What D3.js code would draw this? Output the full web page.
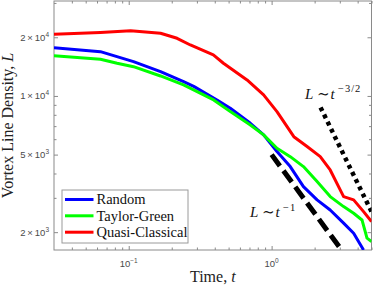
<!DOCTYPE html>
<html>
<head>
<script src="https://d3js.org/d3.v7.min.js"></script>
<style>
  body { margin: 0; background: #fff; }
  svg { display: block; }
</style>
</head>
<body>
<div id="chart"></div>
<script>
// series: time t and line density L
var tRandom = [0.03, 0.0634, 0.108, 0.167, 0.242, 0.285, 0.415, 0.514, 0.71, 0.879, 1.09, 1.35, 1.67, 2.08, 2.57, 3.19, 3.75, 4.4];
var lRandom = [17690, 16870, 14990, 13330, 11840, 11190, 9540, 8650, 7240, 6310, 5180, 4340, 3425, 2930, 2600, 2225, 1976, 1620];

var tTaylor = [0.03, 0.0634, 0.0829, 0.108, 0.167, 0.242, 0.393, 0.514, 0.71, 0.879, 1.09, 1.35, 1.67, 2.08, 2.57, 3.19, 3.75, 4.29, 4.65, 5.0];
var lTaylor = [16090, 15430, 14720, 14130, 12660, 11390, 9540, 8310, 7100, 6310, 5390, 4880, 4340, 3635, 3045, 2705, 2500, 2310, 1863, 1790];

var tQuasi = [0.03, 0.0634, 0.103, 0.167, 0.218, 0.27, 0.391, 0.46, 0.673, 0.879, 1.09, 1.43, 1.77, 2.19, 2.57, 3.19, 3.75, 4.4, 5.0];
var lQuasi = [20720, 21170, 21620, 20970, 19760, 18260, 16230, 14720, 12080, 10120, 8310, 6180, 5500, 4880, 4170, 3045, 2930, 2550, 2265];

var seriesNames = ["Random", "Taylor-Green", "Quasi-Classical"];
var seriesColors = ["#0000ff", "#00ff00", "#ff0000"];

// power-law guides: L = c * t^p over [t0, t1]
var guideDash = {c: 5000, p: -1, t: [1, 3.2]};
var guideDot = {c: 28500, p: -1.5, t: [2.2, 5]};

var xMajor = [0.1, 1];
var xMinor = [0.04, 0.05, 0.06, 0.07, 0.08, 0.09, 0.2, 0.3, 0.4, 0.5, 0.6, 0.7, 0.8, 0.9, 2, 3, 4, 5];
var yMajor = [2000, 5000, 10000, 20000];
var yMinor = [3000, 4000, 6000, 7000, 8000, 9000, 30000];

var width = 374, height = 286;
var pLeft = 54, pRight = 371.5, pTop = 1, pBottom = 250;
var axisColor = "#8a8a8a", labelColor = "#4a4a4a";
var serif = "'Liberation Serif', 'DejaVu Serif', serif";
var sans = "'Liberation Sans', Arial, sans-serif";

var x = d3.scaleLog().domain([0.03, 5]).range([pLeft, pRight]);
var y = d3.scaleLog().domain([1620, 30700]).range([pBottom, pTop]);

var svg = d3.select("#chart").append("svg")
    .attr("width", width)
    .attr("height", height);

svg.append("defs").append("clipPath").attr("id", "plotclip")
  .append("rect")
    .attr("x", pLeft).attr("y", pTop)
    .attr("width", pRight - pLeft).attr("height", pBottom - pTop);

// tick marks on all four sides, pointing inward
function ticks(axisFn, values, size, transform) {
  var g = svg.append("g").attr("transform", transform)
      .call(axisFn.tickValues(values).tickSize(size).tickFormat(""));
  g.select(".domain").remove();
  g.selectAll("line").attr("stroke", axisColor);
}
ticks(d3.axisBottom(x), xMajor, -4, "translate(0," + pBottom + ")");
ticks(d3.axisBottom(x), xMinor, -2.5, "translate(0," + pBottom + ")");
ticks(d3.axisTop(x), xMajor, -4, "translate(0," + pTop + ")");
ticks(d3.axisTop(x), xMinor, -2.5, "translate(0," + pTop + ")");
ticks(d3.axisLeft(y), yMajor, -4, "translate(" + pLeft + ",0)");
ticks(d3.axisLeft(y), yMinor, -2.5, "translate(" + pLeft + ",0)");
ticks(d3.axisRight(y), yMajor, -4, "translate(" + pRight + ",0)");
ticks(d3.axisRight(y), yMinor, -2.5, "translate(" + pRight + ",0)");

svg.append("rect")
    .attr("x", pLeft).attr("y", pTop)
    .attr("width", pRight - pLeft).attr("height", pBottom - pTop)
    .attr("fill", "none").attr("stroke", axisColor);

// x tick labels 10^k
xMajor.forEach(function(v) {
  var e = Math.round(Math.log10(v));
  var t = svg.append("text")
      .attr("x", x(v)).attr("y", 266.5)
      .attr("text-anchor", "middle")
      .attr("font-family", sans).attr("font-size", 9.5)
      .attr("fill", labelColor);
  t.append("tspan").text("10");
  t.append("tspan").attr("dy", -4).attr("font-size", 6.5).text(e < 0 ? "\u2212" + (-e) : e);
});

// y tick labels m×10^k
yMajor.forEach(function(v) {
  var e = Math.floor(Math.log10(v) + 1e-9);
  var m = Math.round(v / Math.pow(10, e));
  var t = svg.append("text")
      .attr("x", 49).attr("y", y(v) + 3.5)
      .attr("text-anchor", "end")
      .attr("font-family", sans).attr("font-size", 9.5)
      .attr("fill", labelColor);
  t.append("tspan").text(m + "\u2009\u00d7\u200910");
  t.append("tspan").attr("dy", -4).attr("font-size", 6.5).text(e);
});

// axis titles
var xt = svg.append("text")
    .attr("x", (pLeft + pRight) / 2).attr("y", 282)
    .attr("text-anchor", "middle")
    .attr("font-family", serif).attr("font-size", 16).attr("fill", "#222");
xt.append("tspan").text("Time, ");
xt.append("tspan").attr("font-style", "italic").text("t");

var yt = svg.append("text")
    .attr("transform", "translate(13," + (pTop + pBottom) / 2 + ") rotate(-90)")
    .attr("text-anchor", "middle")
    .attr("font-family", serif).attr("font-size", 16).attr("fill", "#222");
yt.append("tspan").text("Vortex Line Density, ");
yt.append("tspan").attr("font-style", "italic").text("L");

var plot = svg.append("g").attr("clip-path", "url(#plotclip)");

// guide lines
function guide(gd) {
  return gd.t.map(function(t) { return [t, gd.c * Math.pow(t, gd.p)]; });
}
var line = d3.line().x(function(d) { return x(d[0]); }).y(function(d) { return y(d[1]); });

plot.append("path")
    .attr("d", line(guide(guideDash)))
    .attr("fill", "none").attr("stroke", "#000")
    .attr("stroke-width", 5).attr("stroke-dasharray", "14,6");
plot.append("path")
    .attr("d", line(guide(guideDot)))
    .attr("fill", "none").attr("stroke", "#000")
    .attr("stroke-width", 4.5).attr("stroke-dasharray", "4,4");

// data curves
var series = [
  d3.zip(tRandom, lRandom),
  d3.zip(tTaylor, lTaylor),
  d3.zip(tQuasi, lQuasi)
];
series.forEach(function(s, i) {
  plot.append("path")
      .attr("d", line(s))
      .attr("fill", "none")
      .attr("stroke", seriesColors[i])
      .attr("stroke-width", 3)
      .attr("stroke-linejoin", "round");
});

// power-law annotations
function powerLabel(x0, yb, exp) {
  var g = svg.append("text").attr("y", yb)
      .attr("font-family", serif).attr("font-size", 15).attr("fill", "#111");
  g.append("tspan").attr("x", x0).attr("font-style", "italic").text("L");
  g.append("tspan").attr("x", x0 + 12).text("\u223c");
  g.append("tspan").attr("x", x0 + 25.5).attr("font-style", "italic").text("t");
  g.append("tspan").attr("x", x0 + 33).attr("dy", -6.5)
      .attr("font-size", 10.5).attr("letter-spacing", 1).text(exp);
}
powerLabel(305, 98.5, "\u22123/2");
powerLabel(250, 217, "\u22121");

// legend
var lg = svg.append("g");
lg.append("rect")
    .attr("x", 62).attr("y", 190)
    .attr("width", 126).attr("height", 53)
    .attr("fill", "#fff").attr("stroke", "#9a9a9a");
var rowY = [199.5, 215.8, 232.2];
seriesNames.forEach(function(name, i) {
  lg.append("line")
      .attr("x1", 65).attr("x2", 93.5)
      .attr("y1", rowY[i]).attr("y2", rowY[i])
      .attr("stroke", seriesColors[i]).attr("stroke-width", 3);
  lg.append("text")
      .attr("x", 96.5).attr("y", rowY[i] + 4.8)
      .attr("font-family", serif).attr("font-size", 14.5).attr("fill", "#111")
      .text(name);
});
</script>
</body>
</html>
